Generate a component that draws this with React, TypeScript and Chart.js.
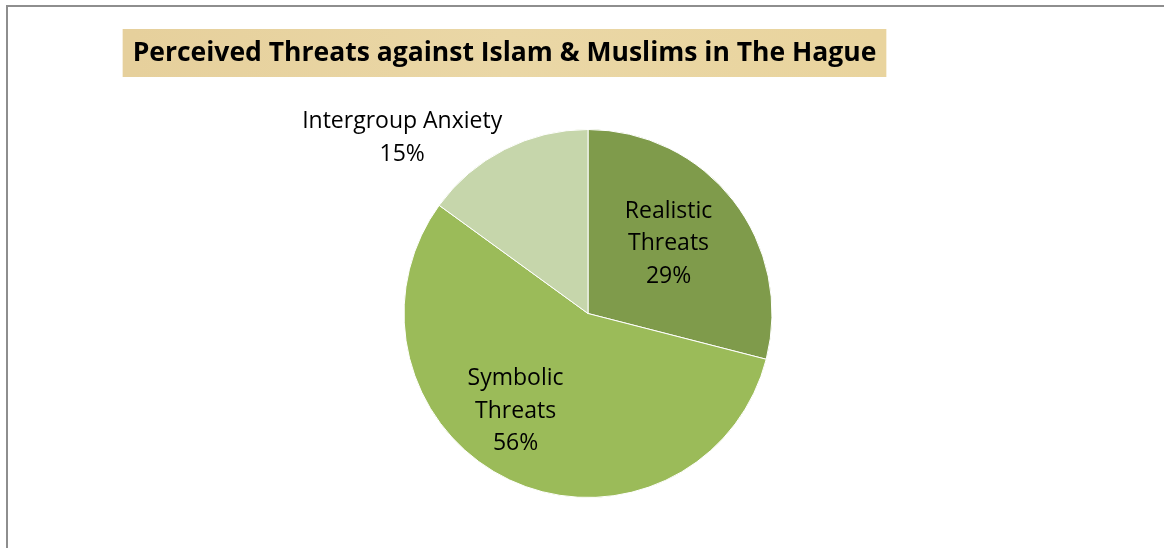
import React, { useEffect, useRef } from "react";
import { Chart, registerables } from "chart.js";

Chart.register(...registerables);

const TITLE = "Perceived Threats against Islam & Muslims in The Hague";
const categories = ["Realistic Threats", "Symbolic Threats", "Intergroup Anxiety"];
const labelLines = [["Realistic", "Threats"], ["Symbolic", "Threats"], ["Intergroup Anxiety"]];
const values = [29, 56, 15];
const colors = ["#7F9B4B", "#9BBB59", "#C6D6AB"];

const FONT = "'Open Sans', Lato, sans-serif";

const titlePlugin = {
  id: "boxTitle",
  afterDraw(chart: any) {
    const ctx = chart.ctx;
    ctx.save();
    ctx.font = `bold 26.5px ${FONT}`;
    const w = ctx.measureText(TITLE).width;
    const cx = 504.5;
    const padX = 10;
    const grad = ctx.createLinearGradient(cx - w / 2, 0, cx + w / 2, 0);
    grad.addColorStop(0, "#E6D09C");
    grad.addColorStop(0.5, "#EAD7A6");
    grad.addColorStop(1, "#E9D49E");
    ctx.fillStyle = grad;
    ctx.fillRect(cx - w / 2 - padX, 29, w + padX * 2, 48);
    ctx.fillStyle = "#000";
    ctx.textAlign = "center";
    ctx.textBaseline = "middle";
    ctx.fillText(TITLE, cx, 53);
    ctx.restore();
  },
};

const labelPlugin = {
  id: "sliceLabels",
  afterDatasetsDraw(chart: any, _args: any, opts: any) {
    const ctx = chart.ctx;
    const meta = chart.getDatasetMeta(0);
    const total = values.reduce((a, b) => a + b, 0);
    ctx.save();
    ctx.font = `23px ${FONT}`;
    ctx.fillStyle = "#000";
    ctx.textAlign = "center";
    ctx.textBaseline = "middle";
    meta.data.forEach((arc: any, i: number) => {
      const p = opts.place[i];
      const a = (p.angle * Math.PI) / 180;
      const r = arc.outerRadius * p.r;
      const x = arc.x + Math.sin(a) * r;
      const y = arc.y - Math.cos(a) * r;
      const lines = [...labelLines[i], Math.round((values[i] / total) * 100) + "%"];
      const lh = 32.5;
      const y0 = y - ((lines.length - 1) * lh) / 2;
      lines.forEach((t, j) => ctx.fillText(t, x, y0 + j * lh));
    });
    ctx.restore();
  },
};

export default function App() {
  const ref = useRef<HTMLCanvasElement>(null);
  useEffect(() => {
    if (!ref.current) return;
    const chart = new Chart(ref.current, {
      type: "pie",
      data: {
        labels: categories,
        datasets: [
          {
            data: values,
            backgroundColor: colors,
            borderColor: "#ffffff",
            borderWidth: 1,
          },
        ],
      },
      options: {
        animation: false,
        responsive: false,
        maintainAspectRatio: false,
        layout: { padding: { top: 129, bottom: 50, left: 220, right: 208 } },
        plugins: {
          legend: { display: false },
          title: { display: false },
          tooltip: { enabled: false },
          sliceLabels: {
            place: [
              { angle: 49, r: 0.58 },
              { angle: 216.6, r: 0.66 },
              { angle: 313.4, r: 1.39 },
            ],
          },
        } as any,
      },
      plugins: [titlePlugin, labelPlugin],
    });
    return () => chart.destroy();
  }, []);
  return (
    <div style={{ position: "fixed", left: 0, top: 0, width: 1164, height: 548, background: "#fff", overflow: "hidden" }}>
      <div
        style={{
          position: "absolute",
          left: 6,
          top: 5,
          width: 1200,
          height: 600,
          border: "2px solid #8E8E8E",
          boxSizing: "border-box",
        }}
      />
      <canvas ref={ref} width={1164} height={548} style={{ position: "absolute", left: 0, top: 0 }} />
    </div>
  );
}
